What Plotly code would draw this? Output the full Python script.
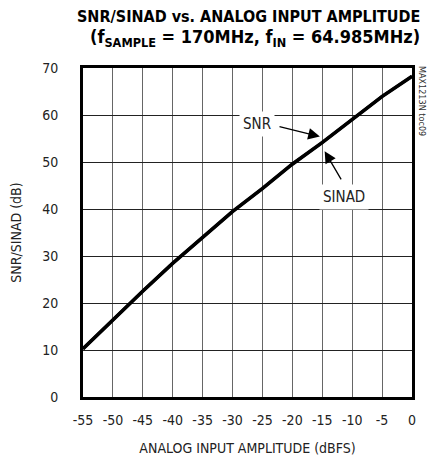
import plotly.graph_objects as go

amplitude_dbfs = [-55, -50, -45, -40, -35, -30, -25, -20, -15, -10, -5, 0]
snr_db = [10.3, 16.5, 22.6, 28.5, 34.0, 39.5, 44.4, 49.6, 54.2, 59.2, 64.0, 68.3]
sinad_db = [10.2, 16.4, 22.5, 28.4, 33.9, 39.4, 44.3, 49.5, 54.1, 59.1, 63.9, 68.2]
x_ticks = [-55, -50, -45, -40, -35, -30, -25, -20, -15, -10, -5, 0]
y_ticks = [0, 10, 20, 30, 40, 50, 60, 70]

FONT = "Liberation Sans Narrow, DejaVu Sans Condensed, Arial Narrow, sans-serif"

# page body has an 8px default margin; compensate
OFF = 8
W, H = 443 - OFF, 457 - OFF
L, T = 83 - OFF, 68 - OFF
pw, ph = 329, 329
R, B = W - L - pw, H - T - ph

fig = go.Figure()
fig.add_trace(go.Scatter(x=amplitude_dbfs, y=sinad_db, mode="lines", name="SINAD",
                         line=dict(color="black", width=3.2)))
fig.add_trace(go.Scatter(x=amplitude_dbfs, y=snr_db, mode="lines", name="SNR",
                         line=dict(color="black", width=3.2)))

# label annotations with white background boxes
fig.add_annotation(x=-25.9, y=58.0, text="SNR", showarrow=False, bgcolor="white",
                   font=dict(family=FONT, size=15, color="#222"), borderpad=3)
fig.add_annotation(x=-11.4, y=42.6, text="SINAD", showarrow=False, bgcolor="white",
                   font=dict(family=FONT, size=15, color="#222"), borderpad=3)
# arrows
fig.add_annotation(x=-15.4, y=55.4, ax=-22.4, ay=57.6, xref="x", yref="y", axref="x", ayref="y",
                   text="", showarrow=True, arrowhead=2, arrowsize=1.8, arrowwidth=1.3, arrowcolor="black")
fig.add_annotation(x=-14.6, y=52.3, ax=-11.7, ay=46.0, xref="x", yref="y", axref="x", ayref="y",
                   text="", showarrow=True, arrowhead=2, arrowsize=1.8, arrowwidth=1.3, arrowcolor="black")

# side code text
fig.add_annotation(x=1.0, y=1.0, xref="paper", yref="paper", xanchor="left", yanchor="top",
                   xshift=3, yshift=4, text="MAX1213N toc09", textangle=90, showarrow=False,
                   font=dict(family=FONT, size=9, color="#333"))

# title lines (target page pixel centres)
title_lines = [
    ("<b>SNR/SINAD vs. ANALOG INPUT AMPLITUDE</b>", 248, 17, 16),
    ("<b>(f<sub>SAMPLE</sub> = 170MHz, f<sub>IN</sub> = 64.985MHz)</b>", 255, 38, 18),
]
for txt, cx, cy, fs in title_lines:
    fig.add_annotation(
        x=(cx - OFF - L) / pw, y=1 - (cy - OFF - T) / ph, xref="paper", yref="paper",
        xanchor="center", yanchor="middle", text=txt, showarrow=False,
        font=dict(family=FONT, size=fs, color="black"))

fig.update_layout(
    width=W, height=H,
    margin=dict(l=L, r=R, t=T, b=B, autoexpand=False),
    paper_bgcolor="white", plot_bgcolor="white",
    showlegend=False,
    font=dict(family=FONT, size=14, color="#222"),
)
fig.update_xaxes(
    range=[-55, 0], tickvals=x_ticks, ticktext=[str(v) for v in x_ticks],
    showgrid=True, gridcolor="#666", gridwidth=1,
    showline=True, linecolor="black", linewidth=3, mirror=True,
    zeroline=False, ticks="outside", ticklen=8, tickcolor="white", automargin=False,
    title=dict(text="ANALOG INPUT AMPLITUDE (dBFS)", font=dict(size=14), standoff=17),
    tickfont=dict(size=14),
)
fig.update_yaxes(
    range=[0, 70], tickvals=y_ticks,
    showgrid=True, gridcolor="#222", gridwidth=1,
    showline=True, linecolor="black", linewidth=3, mirror=True,
    zeroline=False, ticks="outside", ticklen=19, tickcolor="white", automargin=False,
    title=dict(text="SNR/SINAD (dB)", font=dict(size=14), standoff=25),
    tickfont=dict(size=14),
)

fig.write_html("out.html")
